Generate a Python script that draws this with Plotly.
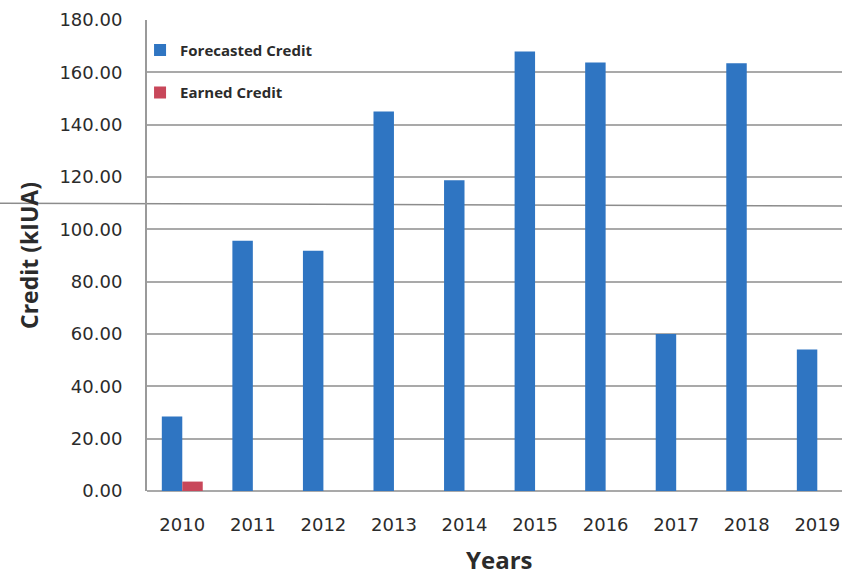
import plotly.graph_objects as go

# Credit per year, in kIUA
years = ["2010", "2011", "2012", "2013", "2014", "2015", "2016", "2017", "2018", "2019"]
forecasted_credit = [28.5, 95.6, 91.8, 145.0, 118.8, 168.0, 163.8, 60.0, 163.5, 54.1]
earned_credit = [3.6, None, None, None, None, None, None, None, None, None]

y_ticks = [0, 20, 40, 60, 80, 100, 120, 140, 160, 180]

BLUE = "#2f75c2"
RED = "#c8475a"
GRID = "#a9a9a9"
TEXT = "#2b2b2b"

fig = go.Figure()
fig.add_trace(go.Bar(
    x=years, y=forecasted_credit, name="Forecasted Credit",
    marker=dict(color=BLUE, line=dict(width=0)), legendgroup="f",
))
fig.add_trace(go.Bar(
    x=years, y=earned_credit, name="Earned Credit",
    marker=dict(color=RED, line=dict(width=0)), legendgroup="e",
))

fig.update_layout(
    width=842, height=577,
    margin=dict(l=147, r=0, t=20, b=86),
    paper_bgcolor="white", plot_bgcolor="white",
    barmode="group", bargap=0.42, bargroupgap=0,
    showlegend=True,
    legend=dict(
        x=-0.01, xanchor="left", y=0.971, yanchor="top",
        bgcolor="rgba(0,0,0,0)", tracegroupgap=20,
        font=dict(family="Open Sans", size=15, color=TEXT, weight="bold"),
    ),
    font=dict(family="DejaVu Sans", color=TEXT),
)

fig.update_xaxes(
    type="category", range=[-0.5, 9.35],
    showgrid=False, showline=False, zeroline=False,
    ticks="", ticklabelstandoff=21,
    tickfont=dict(family="DejaVu Sans", size=18, color=TEXT),
)
fig.update_yaxes(
    range=[0, 180], tickvals=y_ticks, tickformat=".2f",
    showgrid=True, gridcolor=GRID, gridwidth=1.5,
    zeroline=True, zerolinecolor=GRID, zerolinewidth=1.5,
    showline=True, linecolor="#9a9a9a", linewidth=2,
    ticks="", ticklabelstandoff=19,
    tickfont=dict(family="DejaVu Sans", size=18, color=TEXT),
    title=dict(text="Credit (kIUA)", standoff=14,
               font=dict(family="Open Sans", size=23, color=TEXT, weight="bold")),
)

# x-axis title centred under the full category band
fig.add_annotation(
    text="Years", xref="x", yref="paper", x=4.5, y=-0.146,
    xanchor="center", yanchor="middle", showarrow=False,
    font=dict(family="Open Sans", size=24, color=TEXT, weight="bold"),
)

# thin horizontal rule running across the whole page
fig.add_shape(
    type="line", xref="paper", yref="paper",
    x0=-0.22, x1=1.0, y0=0.611, y1=0.605,
    line=dict(color="#8c8c8c", width=1.5), layer="below",
)

fig.write_html("out.html")
